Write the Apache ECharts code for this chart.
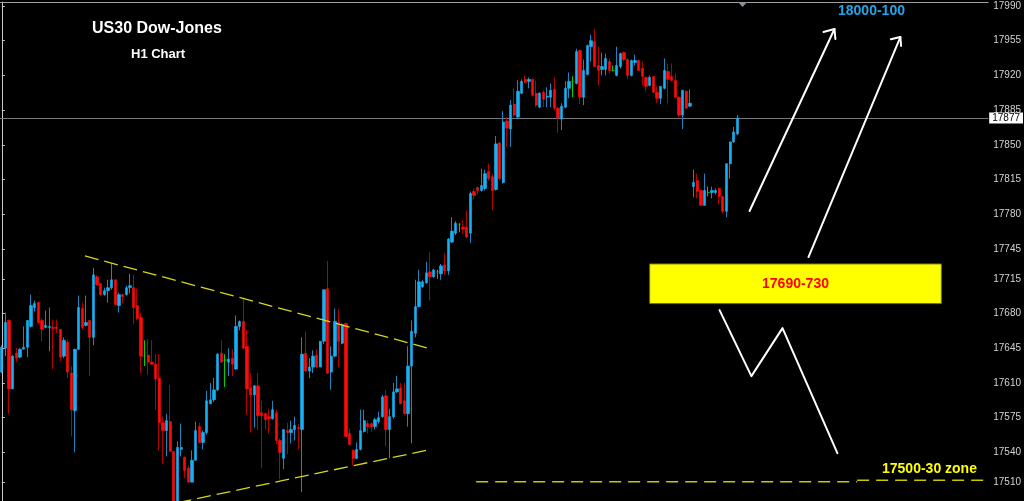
<!DOCTYPE html>
<html>
<head>
<meta charset="utf-8">
<title>US30 Dow-Jones H1</title>
<script src="https://cdn.jsdelivr.net/npm/echarts@6/dist/echarts.min.js"></script>
<style>
  html, body { margin: 0; padding: 0; background: #000; }
  #chart { width: 1024px; height: 501px; }
</style>
</head>
<body>
<div id="chart"></div>
<script>
// Hourly bars, oldest first
const opens = [
  17621,17645,17673,17604,17640,17636,17644,17646,17667,17686,
  17691,17673,17666,17666,17666,17666,17664,17637,17651,17620,
  17582,17644,17685,17668,17673,17656,17717,17710,17699,17703,
  17706,17714,17688,17699,17699,17706,17706,17688,17676,17637,
  17638,17631,17629,17615,17570,17562,17571,17541,17490,17543,
  17535,17524,17510,17532,17566,17550,17560,17589,17593,17603,
  17640,17633,17631,17635,17624,17667,17672,17647,17605,17598,
  17607,17580,17579,17576,17574,17580,17552,17534,17562,17560,
  17563,17565,17563,17640,17622,17626,17638,17626,17652,17705,
  17621,17637,17671,17650,17670,17559,17542,17534,17543,17561,
  17569,17569,17566,17571,17576,17597,17563,17576,17601,17605,
  17592,17579,17627,17660,17687,17707,17711,17722,17717,17722,
  17720,17729,17723,17752,17761,17770,17767,17767,17761,17803,
  17807,17804,17806,17823,17818,17805,17852,17812,17874,17866,
  17891,17878,17902,17916,17914,17916,17902,17888,17903,17898,
  17898,17906,17887,17876,17888,17907,17914,17912,17945,17898,
  17921,17949,17954,17930,17926,17926,17934,17925,17920,17929,
  17943,17936,17920,17933,17935,17927,17918,17910,17919,17903,
  17897,17907,17924,17919,17915,17898,17880,17904,17889,17808,
  17814,17804,17789,17802,17802,17802,17806,17798,17783,17831,
  17853,17861
];
const closes = [
  17646,17671,17604,17637,17635,17644,17646,17673,17688,17690,
  17671,17664,17668,17667,17665,17665,17636,17653,17621,17583,
  17644,17686,17666,17671,17656,17719,17709,17699,17703,17706,
  17714,17689,17699,17697,17706,17708,17686,17675,17637,17637,
  17631,17629,17614,17570,17562,17572,17541,17490,17545,17545,
  17522,17510,17532,17562,17550,17560,17592,17593,17603,17639,
  17631,17633,17634,17629,17667,17672,17645,17604,17598,17607,
  17577,17577,17573,17574,17583,17552,17540,17563,17560,17563,
  17567,17564,17639,17622,17626,17637,17626,17652,17704,17620,
  17637,17672,17652,17669,17556,17548,17534,17543,17562,17572,
  17566,17566,17573,17575,17596,17563,17576,17601,17604,17589,
  17579,17627,17662,17687,17712,17712,17721,17717,17724,17722,
  17728,17723,17755,17763,17771,17770,17765,17757,17801,17799,
  17804,17809,17821,17816,17804,17851,17816,17873,17867,17890,
  17880,17904,17914,17913,17916,17900,17890,17902,17896,17899,
  17905,17887,17877,17889,17907,17914,17914,17944,17898,17925,
  17950,17955,17929,17925,17929,17937,17925,17925,17930,17942,
  17936,17920,17935,17935,17925,17919,17909,17918,17903,17897,
  17909,17925,17916,17915,17898,17880,17905,17887,17892,17812,
  17803,17789,17804,17802,17804,17804,17798,17783,17831,17853,
  17863,17877
];
const lows = [
  17620,17637,17579,17604,17632,17635,17644,17636,17666,17682,
  17669,17652,17665,17642,17624,17660,17632,17635,17615,17556,
  17540,17643,17664,17667,17617,17648,17708,17698,17698,17691,
  17704,17688,17681,17690,17698,17700,17669,17673,17620,17627,
  17618,17628,17583,17542,17528,17536,17541,17480,17480,17536,
  17514,17510,17510,17532,17549,17543,17558,17589,17591,17602,
  17630,17606,17617,17617,17623,17663,17644,17578,17560,17565,
  17562,17524,17563,17559,17573,17548,17513,17523,17538,17549,
  17552,17543,17500,17621,17615,17620,17625,17626,17649,17619,
  17603,17636,17626,17649,17556,17547,17527,17533,17542,17560,
  17559,17561,17563,17569,17575,17546,17534,17574,17600,17589,
  17578,17566,17549,17656,17686,17706,17710,17693,17716,17715,
  17714,17719,17719,17751,17759,17762,17760,17756,17751,17795,
  17800,17803,17804,17814,17784,17804,17814,17811,17848,17848,
  17878,17877,17901,17912,17907,17899,17888,17887,17888,17888,
  17888,17885,17862,17865,17887,17897,17898,17911,17891,17890,
  17920,17934,17929,17910,17920,17920,17922,17924,17919,17927,
  17934,17916,17919,17930,17925,17910,17904,17909,17902,17892,
  17891,17906,17892,17914,17898,17878,17866,17886,17888,17797,
  17796,17789,17789,17798,17796,17800,17790,17781,17777,17816,
  17852,17860
];
const highs = [
  17648,17681,17674,17638,17645,17645,17667,17673,17699,17693,
  17692,17675,17683,17686,17674,17674,17664,17656,17654,17627,
  17644,17698,17691,17698,17673,17726,17719,17711,17706,17714,
  17731,17714,17701,17700,17708,17720,17719,17705,17681,17653,
  17654,17653,17639,17639,17576,17579,17608,17541,17551,17569,
  17536,17527,17542,17571,17570,17562,17602,17610,17615,17640,
  17653,17639,17645,17644,17678,17673,17696,17664,17620,17608,
  17620,17592,17580,17584,17592,17583,17554,17563,17570,17572,
  17576,17569,17656,17662,17635,17643,17644,17652,17704,17733,
  17647,17685,17684,17670,17671,17564,17543,17550,17583,17583,
  17572,17570,17575,17581,17598,17603,17584,17610,17617,17610,
  17610,17647,17673,17714,17724,17714,17732,17742,17725,17724,
  17730,17741,17756,17777,17773,17771,17774,17784,17803,17806,
  17808,17826,17825,17831,17821,17859,17853,17884,17878,17895,
  17907,17915,17916,17920,17918,17917,17915,17903,17905,17908,
  17912,17918,17888,17892,17914,17923,17919,17947,17946,17936,
  17951,17961,17967,17949,17943,17942,17937,17930,17949,17943,
  17944,17937,17936,17941,17936,17934,17919,17920,17919,17909,
  17909,17937,17932,17932,17922,17899,17905,17905,17906,17825,
  17821,17804,17821,17808,17808,17806,17807,17798,17831,17853,
  17868,17880
];

// Empty future bars to the right of the last candle
const futureSlots = 68;
// Price scale labels
const priceTicks = [17510,17540,17575,17610,17645,17680,17715,17745,17780,17815,17850,17885,17920,17955,17990];
const lastPrice = 17877;

// Drawn analysis objects: [bar slot, price]
const upperTrend = [[22.7, 17738], [117.6, 17644]];
const lowerTrend = [[48, 17489.3], [115.9, 17542]];
const arrowA = [[204.3, 17783.3], [227.5, 17966.8]];
const arrowHeadA = [[224.5, 17963.8], [227.5, 17966.8], [227.75, 17956.7]];
const arrowB = [[220.4, 17736.9], [245.5, 17958.7]];
const arrowHeadB = [[242.9, 17956.4], [245.5, 17958.7], [245.7, 17949.7]];
const zigzag = [[196.1, 17683.4], [204.8, 17616.9], [213.3, 17665.3], [228.3, 17539.2]];
const supportLeft = [[129.6, 17510.5], [233.7, 17510.5]];
const supportRight = [[233.7, 17512], [269.5, 17512]];
const buyZone = { low: 17690, high: 17730, from: 177, to: 256.7 };
const shiftMarker = [202.4, 17991.5];

const BULL = '#18b0f4', BEAR = '#ff0a0a', DOJI = '#00d400';
const BULL_WICK = '#1d86bd', BEAR_WICK = '#b40000';
const dojiStyle = { color: DOJI, color0: DOJI, borderColor: DOJI, borderColor0: DOJI };

const totalSlots = opens.length + futureSlots;
const slots = Array.from({ length: totalSlots }, (_, i) => String(i));

const wickData = opens.map((o, i) => {
  const item = { value: [o, closes[i], lows[i], highs[i]] };
  if (o === closes[i]) item.itemStyle = dojiStyle;
  return item;
});
const bodyData = opens.map((o, i) => {
  const c = closes[i];
  const item = { value: [o, c, Math.min(o, c), Math.max(o, c)] };
  if (o === c) item.itemStyle = dojiStyle;
  return item;
});

const FONT = '"Liberation Sans", Arial, sans-serif';
const SCALE_FONT = '"Liberation Sans Narrow", "Liberation Sans", Arial, sans-serif';

function overlayLine(data, style) {
  return {
    type: 'line', xAxisIndex: 1, yAxisIndex: 0, data: data,
    symbol: 'none', silent: true, z: 5, clip: true,
    lineStyle: style
  };
}

const white = { color: '#ffffff', width: 2, cap: 'round', join: 'round' };
const trendStyle = { color: '#d6d61a', width: 1.3, type: [14, 6] };
const supportStyle = { color: '#c8c800', width: 1.5, type: [12, 7] };

const chart = echarts.init(document.getElementById('chart'), null, { renderer: 'canvas' });
chart.setOption({
  backgroundColor: '#000000',
  animation: false,
  title: [
    { text: 'US30 Dow-Jones', left: 92, top: 21, padding: 0,
      textStyle: { color: '#ffffff', fontSize: 16, fontWeight: 'bold', fontFamily: FONT } },
    { text: 'H1 Chart', left: 131, top: 48, padding: 0,
      textStyle: { color: '#ffffff', fontSize: 13, fontWeight: 'bold', fontFamily: FONT } },
    { text: '18000-100', left: 838, top: 4, padding: 0,
      textStyle: { color: '#1fa6ec', fontSize: 14, fontWeight: 'bold', fontFamily: FONT } },
    { text: '17500-30 zone', left: 882, top: 462, padding: 0,
      textStyle: { color: '#ffff00', fontSize: 14, fontWeight: 'bold', fontFamily: FONT } }
  ],
  grid: { left: -1, top: 2, width: 990, height: 499, containLabel: false },
  xAxis: [
    { type: 'category', data: slots, position: 'top', boundaryGap: true,
      axisLine: { show: true, lineStyle: { color: '#a0a0a0', width: 1 } },
      axisTick: { show: false }, axisLabel: { show: false }, splitLine: { show: false } },
    { type: 'value', min: -0.5, max: totalSlots - 0.5, show: false }
  ],
  yAxis: {
    type: 'value', position: 'right', min: 17491, max: 17994,
    axisLine: { show: true, lineStyle: { color: '#c8c8c8', width: 1 } },
    axisTick: { show: true, customValues: priceTicks, length: 3, inside: false,
      lineStyle: { color: '#c8c8c8', width: 1 } },
    axisLabel: { customValues: priceTicks, color: '#d2d2d2', fontSize: 10, margin: 5,
      fontFamily: SCALE_FONT, formatter: (v) => String(Math.round(v)) },
    splitLine: { show: false }
  },
  series: [
    {
      name: 'wicks', type: 'candlestick', xAxisIndex: 0, yAxisIndex: 0,
      data: wickData, barWidth: 1, barMinWidth: 1, z: 2, silent: true,
      itemStyle: { color: BULL_WICK, color0: BEAR_WICK, borderColor: BULL_WICK, borderColor0: BEAR_WICK, borderWidth: 1 },
      markLine: {
        silent: true, symbol: ['none', 'none'], z: 1,
        lineStyle: { color: '#777b80', width: 1, type: 'solid' },
        label: { show: true, position: 'end', distance: 1, formatter: String(lastPrice),
          backgroundColor: '#ffffff', color: '#000000', fontSize: 10, padding: [1, 3, 0, 3],
          fontFamily: SCALE_FONT },
        data: [{ yAxis: lastPrice }]
      }
    },
    {
      name: 'bodies', type: 'candlestick', xAxisIndex: 0, yAxisIndex: 0,
      data: bodyData, barWidth: 2.8, z: 3, silent: true,
      itemStyle: { color: BULL, color0: BEAR, borderColor: BULL, borderColor0: BEAR, borderWidth: 0.6 }
    },
    overlayLine(upperTrend, trendStyle),
    overlayLine(lowerTrend, trendStyle),
    overlayLine(supportLeft, supportStyle),
    overlayLine(supportRight, supportStyle),
    Object.assign(overlayLine(zigzag, white), {
      markArea: {
        silent: true,
        itemStyle: { color: '#ffff00', borderColor: '#6e6e00', borderWidth: 1 },
        label: { show: true, position: 'inside', color: '#ff0000', fontSize: 14, fontWeight: 'bold', fontFamily: FONT },
        data: [[
          { name: buyZone.low + '-' + String(buyZone.high).slice(2), coord: [buyZone.from, buyZone.high] },
          { coord: [buyZone.to, buyZone.low] }
        ]]
      }
    }),
    overlayLine(arrowA, white),
    overlayLine(arrowHeadA, white),
    overlayLine(arrowB, white),
    Object.assign(overlayLine(arrowHeadB, white), {
      markPoint: {
        silent: true, symbol: 'triangle', symbolRotate: 180, symbolSize: [9, 5],
        itemStyle: { color: '#8c929a' }, label: { show: false },
        data: [{ coord: shiftMarker }]
      }
    })
  ]
});
</script>
</body>
</html>
